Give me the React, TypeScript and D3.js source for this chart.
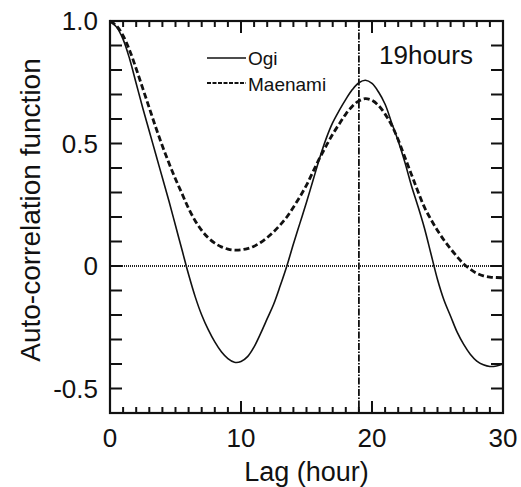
import React from "react";
import * as d3 from "d3";

const lagHours = [0,0.5,1,1.5,2,2.5,3,3.5,4,4.5,5,5.5,6,6.5,7,7.5,8,8.5,9,9.5,10,10.5,11,11.5,12,12.5,13,13.5,14,14.5,15,15.5,16,16.5,17,17.5,18,18.5,19,19.5,20,20.5,21,21.5,22,22.5,23,23.5,24,24.5,25,25.5,26,26.5,27,27.5,28,28.5,29,29.5,30];
const ogi = [1.0,0.975,0.925,0.845,0.745,0.645,0.55,0.455,0.36,0.265,0.165,0.065,-0.035,-0.125,-0.2,-0.26,-0.31,-0.35,-0.378,-0.393,-0.39,-0.37,-0.33,-0.275,-0.215,-0.155,-0.08,0.0,0.09,0.175,0.26,0.35,0.44,0.52,0.585,0.635,0.68,0.72,0.748,0.758,0.745,0.71,0.66,0.585,0.51,0.425,0.33,0.245,0.155,0.05,-0.055,-0.14,-0.205,-0.27,-0.32,-0.36,-0.388,-0.403,-0.41,-0.408,-0.4];
const maenami = [1.0,0.98,0.94,0.88,0.805,0.725,0.645,0.565,0.49,0.42,0.355,0.295,0.235,0.185,0.145,0.115,0.093,0.078,0.069,0.065,0.066,0.071,0.081,0.096,0.116,0.14,0.168,0.2,0.24,0.283,0.33,0.385,0.44,0.49,0.538,0.58,0.62,0.652,0.674,0.683,0.676,0.655,0.62,0.575,0.515,0.445,0.375,0.305,0.24,0.19,0.145,0.105,0.07,0.038,0.008,-0.013,-0.03,-0.04,-0.045,-0.047,-0.048];
const xTickLabels = [0, 10, 20, 30];
const yTickLabels = [1.0, 0.5, 0, -0.5];
const yTickLabelText = ["1.0", "0.5", "0", "-0.5"];
const periodHours = 19;
const seriesNames = ["Ogi", "Maenami"];
const annotation = "19hours";

const W = 521, H = 487;
const L = 110, R = 503, T = 21, B = 413;
const FONT = "'Liberation Sans', Arial, Helvetica, sans-serif";

export default function App() {
  const x = d3.scaleLinear().domain([0, 30]).range([L, R]);
  const y = d3.scaleLinear().domain([-0.6, 1.0]).range([B, T]);
  const line = (vals: number[]) =>
    d3.line<number>().x((_, i) => x(lagHours[i])).y((v) => y(v)).curve(d3.curveCatmullRom.alpha(0.5))(vals) || "";

  const minorX = d3.range(1, 30);
  const yTicks = d3.range(-5, 10).map((k) => k / 10);

  return (
    <svg width={W} height={H} style={{ position: "absolute", left: 0, top: 0, background: "#fff" }} fontFamily={FONT}>
      {/* zero line */}
      <line x1={L} x2={R} y1={y(0)} y2={y(0)} stroke="#222" strokeWidth={2} strokeDasharray="1,1" />
      {/* period line */}
      <line x1={x(periodHours)} x2={x(periodHours)} y1={T} y2={B} stroke="#111" strokeWidth={1.8} strokeDasharray="7,1.5,1.5,1.5" />
      {/* curves */}
      <path d={line(ogi)} fill="none" stroke="#111" strokeWidth={1.6} />
      <path d={line(maenami)} fill="none" stroke="#111" strokeWidth={2.8} strokeDasharray="6,3" />
      {/* ticks x */}
      {minorX.map((h) => {
        const len = h % 10 === 0 ? 12 : 6;
        return (
          <g key={"xt" + h}>
            <line x1={x(h)} x2={x(h)} y1={B} y2={B - len} stroke="#111" strokeWidth={2} />
            <line x1={x(h)} x2={x(h)} y1={T} y2={T + len} stroke="#111" strokeWidth={2} />
          </g>
        );
      })}
      {/* ticks y */}
      {yTicks.map((v) => (
        <g key={"yt" + v}>
          <line x1={L} x2={L + 12} y1={y(v)} y2={y(v)} stroke="#111" strokeWidth={2} />
          <line x1={R} x2={R - 12} y1={y(v)} y2={y(v)} stroke="#111" strokeWidth={2} />
        </g>
      ))}
      {/* frame */}
      <rect x={L} y={T} width={R - L} height={B - T} fill="none" stroke="#111" strokeWidth={2.2} />
      {/* tick labels */}
      {xTickLabels.map((h) => (
        <text key={"xl" + h} x={x(h)} y={447} textAnchor="middle" fontSize={26} fill="#111">{h}</text>
      ))}
      {yTickLabels.map((v, i) => (
        <text key={"yl" + v} x={98} y={y(v) + 9} textAnchor="end" fontSize={26} fill="#111">{yTickLabelText[i]}</text>
      ))}
      {/* axis titles */}
      <text x={(L + R) / 2} y={481} textAnchor="middle" fontSize={27} fill="#111">Lag (hour)</text>
      <text transform={`translate(40,${210}) rotate(-90)`} textAnchor="middle" fontSize={28} fill="#111">Auto-correlation function</text>
      {/* legend */}
      <line x1={207} x2={246} y1={58} y2={58} stroke="#111" strokeWidth={1.5} />
      <text x={248} y={65} fontSize={19} fill="#111">{seriesNames[0]}</text>
      <line x1={207} x2={246} y1={83} y2={83} stroke="#111" strokeWidth={2} strokeDasharray="4,1.5" />
      <text x={248} y={91} fontSize={19} fill="#111">{seriesNames[1]}</text>
      {/* annotation */}
      <text x={379} y={64} fontSize={26} fill="#111">{annotation}</text>
    </svg>
  );
}
